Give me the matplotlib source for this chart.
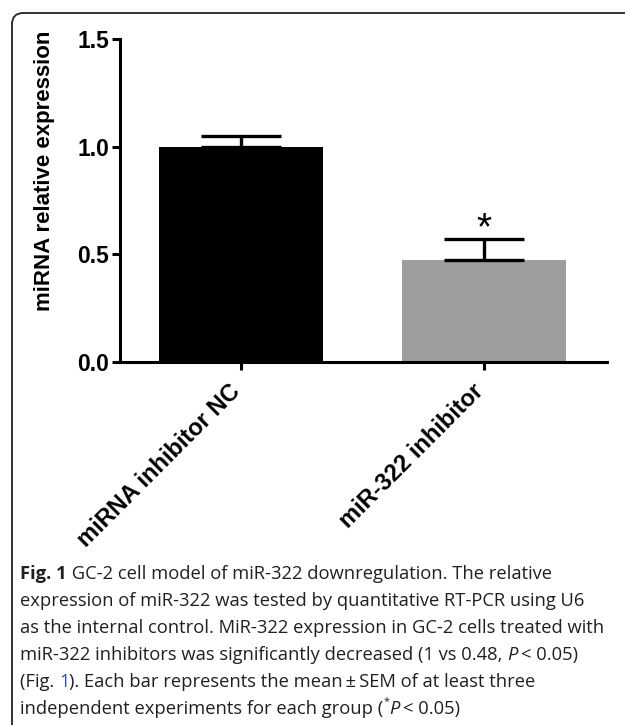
import matplotlib
matplotlib.use("Agg")
import matplotlib.pyplot as plt
from matplotlib.patches import FancyBboxPatch

categories = ["miRNA inhibitor NC", "miR-322 inhibitor"]
values = [1.0, 0.474]
errors = [0.05, 0.097]
colors = ["#000000", "#9e9e9e"]
yticks = [0.0, 0.5, 1.0, 1.5]
ylabel = "miRNA relative expression"
sig_marks = ["", "*"]

caption_lines = [
    [("Fig. 1", "bold", "normal", "#231f20"), (" GC-2 cell model of miR-322 downregulation. The relative", "normal", "normal", "#231f20")],
    [("expression of miR-322 was tested by quantitative RT-PCR using U6", "normal", "normal", "#231f20")],
    [("as the internal control. MiR-322 expression in GC-2 cells treated with", "normal", "normal", "#231f20")],
    [("miR-322 inhibitors was significantly decreased (1 vs 0.48, ", "normal", "normal", "#231f20"), ("P", "normal", "italic", "#231f20"), ("\u2009< 0.05)", "normal", "normal", "#231f20")],
    [("(Fig. ", "normal", "normal", "#231f20"), ("1", "normal", "normal", "#2b4fb5"), ("). Each bar represents the mean\u2009\u00b1\u2009SEM of at least three", "normal", "normal", "#231f20")],
    [("independent experiments for each group (", "normal", "normal", "#231f20"), ("*", "normal", "normal", "#231f20", "sup"), ("P", "normal", "italic", "#231f20"), ("\u2009< 0.05)", "normal", "normal", "#231f20")],
]

W, H = 625, 725
fig = plt.figure(figsize=(W / 100, H / 100), dpi=100)

# rounded frame
frame = FancyBboxPatch((12 / W, -0.05), 1.0, 1.05 - 13 / H,
                       boxstyle="round,pad=0,rounding_size=0.018",
                       transform=fig.transFigure, fill=False,
                       edgecolor="#222222", linewidth=1.3, mutation_aspect=W / H)
fig.patches.append(frame)

ax = fig.add_axes([120 / W, (H - 362) / H, (607 - 120) / W, (362 - 39) / H])
x = list(range(len(categories)))
ax.bar(x, values, width=0.675, color=colors, edgecolor="none", zorder=2)
for xi, v, e in zip(x, values, errors):
    ax.errorbar([xi], [v], yerr=[[0], [e]], fmt="none", ecolor="black",
                elinewidth=2.4, capsize=29, capthick=2.4, zorder=3)
for xi, v, e, m in zip(x, values, errors, sig_marks):
    if m:
        ax.text(xi, v + e + 0.045, m, ha="center", va="center", fontsize=28,
                family="Liberation Sans", fontweight="normal")

ax.set_xlim(-0.5, 1.505)
ax.set_ylim(0, 1.5)
ax.set_yticks(yticks)
ax.set_yticklabels([f"{t:.1f}" for t in yticks], family="Liberation Sans",
                   fontweight="bold", fontsize=16.5)
ax.set_xticks(x)
ax.set_xticklabels(categories, rotation=45, ha="right", va="baseline",
                   rotation_mode="anchor", family="Liberation Sans",
                   fontweight="bold", fontsize=17)
ax.tick_params(axis="both", length=6, width=2.2, direction="out", pad=2)
ax.tick_params(axis="x", pad=16)
for s in ["top", "right"]:
    ax.spines[s].set_visible(False)
for s in ["left", "bottom"]:
    ax.spines[s].set_linewidth(2.2)

fig.text(45 / W, (H - 171) / H, ylabel, rotation=90, ha="center", va="center",
         family="Liberation Sans", fontweight="bold", fontsize=16)

# caption
fig.canvas.draw()
renderer = fig.canvas.get_renderer()
line_y = [572, 599, 626, 653, 680, 707]
fs = 13.2
for ly, pieces in zip(line_y, caption_lines):
    xpos = 20
    for p in pieces:
        txt, weight, style, col = p[:4]
        sup = len(p) > 4
        t = fig.text(xpos / W, (H - ly + (7 if sup else 0)) / H, txt,
                     fontsize=fs * (0.6 if sup else 1), fontweight=weight,
                     fontstyle=style, color=col, family="Open Sans",
                     ha="left", va="center_baseline")
        bb = t.get_window_extent(renderer)
        xpos += bb.width

fig.savefig("out.png", dpi=100)
